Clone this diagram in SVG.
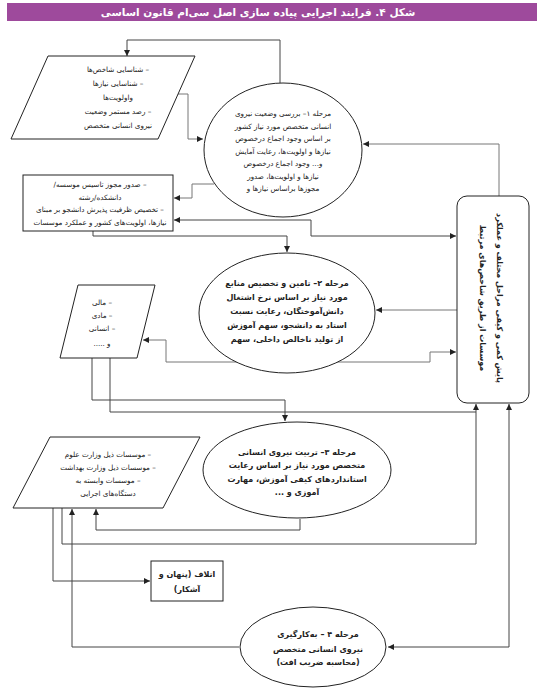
<svg xmlns="http://www.w3.org/2000/svg" width="555" height="693" viewBox="0 0 555 693">
<defs>
<marker id="ah" markerWidth="6" markerHeight="6" refX="6" refY="3" orient="auto-start-reverse" markerUnits="userSpaceOnUse">
<path d="M0,0 L6,3 L0,6 z" fill="#222"/>
</marker>
<style>
.ln{fill:none;stroke:#444;stroke-width:1}
.lg{fill:none;stroke:#777;stroke-width:1}
.sh{fill:#fff;stroke:#222;stroke-width:1}
.t{font-family:"DejaVu Sans",sans-serif;font-size:7.2px;fill:#222;text-anchor:middle;direction:rtl}
.tb{font-family:"DejaVu Sans",sans-serif;font-size:8px;fill:#222;text-anchor:middle;direction:rtl;font-weight:bold}
</style>
</defs>
<rect x="7" y="3" width="530" height="18" fill="#9e4a9c"/>
<text x="258" y="16" style="font-family:'DejaVu Sans',sans-serif;font-size:10.5px;fill:#fff;font-weight:bold;text-anchor:middle;direction:rtl">شکل ۴. فرایند اجرایی پیاده سازی اصل سی‌ام قانون اساسی</text>

<g id="connectors">
<polyline class="ln" points="280,83 280,40 127,40 127,56" marker-end="url(#ah)"/>
<polyline class="lg" points="175,94 188,94 188,139 203,139" marker-end="url(#ah)"/>
<polyline class="lg" points="499,196 499,144 363,144" marker-end="url(#ah)"/>
<polyline class="lg" points="214,184 192,184 192,198 174,198" marker-end="url(#ah)"/>
<polyline class="ln" points="174,220 311,220 311,236 456,236" marker-start="url(#ah)" marker-end="url(#ah)"/>
<polyline class="ln" points="93,231 93,236 287,236 287,252" marker-end="url(#ah)"/>
<polyline class="lg" points="457,310 376,310" marker-end="url(#ah)"/>
<polyline class="lg" points="143,340 166,340 166,362 430,362 430,352 456,352" marker-start="url(#ah)" marker-end="url(#ah)"/>
<polyline class="ln" points="92,358 92,400 285,400 285,421" marker-end="url(#ah)"/>
<polyline class="ln" points="110,358 110,412 476,412"/>
<polyline class="ln" points="62,508 62,544 476,544 476,404" marker-end="url(#ah)"/>
<polyline class="ln" points="53,508 53,581 150,581" marker-end="url(#ah)"/>
<polyline class="ln" points="72,509 72,647 239,647" marker-start="url(#ah)"/>
<polyline class="ln" points="96,509 96,530 300,530 300,519" marker-start="url(#ah)"/>
<polyline class="ln" points="509,404 509,647 388,647" marker-start="url(#ah)" marker-end="url(#ah)"/>
</g>

<g id="p1">
<polygon class="sh" points="48,56 195,56 158,139 11,139"/>
<text class="t" x="118" y="72">&#x200F;– شناسایی شاخص‌ها</text>
<text class="t" x="118" y="86">&#x200F;– شناسایی نیازها</text>
<text class="t" x="118" y="100">واولویت‌ها</text>
<text class="t" x="118" y="114">&#x200F;– رصد مستمر وضعیت</text>
<text class="t" x="118" y="128">نیروی انسانی متخصص</text>
</g>

<g id="stage1">
<ellipse class="sh" cx="283" cy="150" rx="79" ry="67"/>
<text class="t" x="283" y="116">مرحله ۱– بررسی وضعیت نیروی</text>
<text class="t" x="283" y="128.5">انسانی متخصص مورد نیاز کشور</text>
<text class="t" x="283" y="141">بر اساس وجود اجماع درخصوص</text>
<text class="t" x="283" y="153.5">نیازها و اولویت‌ها، رعایت آمایش</text>
<text class="t" x="283" y="166">و... وجود اجماع درخصوص</text>
<text class="t" x="283" y="178.5">نیازها و اولویت‌ها، صدور</text>
<text class="t" x="283" y="191">مجوزها براساس نیازها و</text>
</g>

<g id="box2">
<rect class="sh" x="23" y="175" width="150" height="56"/>
<text class="t" x="100" y="187">&#x200F;– صدور مجوز تاسیس موسسه/</text>
<text class="t" x="100" y="199.5">دانشکده/رشته</text>
<text class="t" x="100" y="212">&#x200F;– تخصیص ظرفیت پذیرش دانشجو بر مبنای</text>
<text class="t" x="100" y="224.5">نیازها، اولویت‌های کشور و عملکرد موسسات</text>
</g>

<g id="monitor">
<rect class="sh" x="457" y="196" width="72" height="207" rx="10"/>
<text class="tb" transform="translate(497,298) rotate(90)">پایش کمی و کیفی مراحل مختلف و عملکرد</text>
<text class="tb" transform="translate(480,298) rotate(90)">موسسات از طریق شاخص‌های مرتبط</text>
</g>

<g id="stage2">
<ellipse class="sh" cx="287" cy="313" rx="88" ry="60"/>
<text class="tb" x="287" y="286">مرحله ۲– تامین و تخصیص منابع</text>
<text class="tb" x="287" y="300">مورد نیاز بر اساس نرخ اشتغال</text>
<text class="tb" x="287" y="314">دانش‌آموختگان، رعایت نسبت</text>
<text class="tb" x="287" y="328">استاد به دانشجو، سهم آموزش</text>
<text class="tb" x="287" y="342">از  تولید ناخالص داخلی، سهم</text>
</g>

<g id="p2">
<polygon class="sh" points="78,285 155,285 137,358 60,358"/>
<text class="t" x="102" y="305">&#x200F;– مالی</text>
<text class="t" x="102" y="318">&#x200F;– مادی</text>
<text class="t" x="102" y="331">&#x200F;– انسانی</text>
<text class="t" x="102" y="346">و .....</text>
</g>

<g id="p3">
<polygon class="sh" points="50,437 200,437 163,508 13,508"/>
<text class="t" x="108" y="457">&#x200F;– موسسات ذیل وزارت علوم</text>
<text class="t" x="108" y="470">&#x200F;– موسسات ذیل وزارت بهداشت</text>
<text class="t" x="108" y="483">&#x200F;– موسسات وابسته به</text>
<text class="t" x="108" y="496">دستگاه‌های اجرایی</text>
</g>

<g id="stage3">
<ellipse class="sh" cx="297" cy="470" rx="94" ry="48"/>
<text class="tb" x="297" y="455">مرحله ۳– تربیت نیروی انسانی</text>
<text class="tb" x="297" y="468">متخصص مورد نیاز بر اساس رعایت</text>
<text class="tb" x="297" y="482">استانداردهای کیفی آموزش، مهارت</text>
<text class="tb" x="297" y="495">آموزی و ...</text>
</g>

<g id="waste">
<rect class="sh" x="151" y="561" width="72" height="40"/>
<text class="tb" x="187" y="577">اتلاف (پنهان و</text>
<text class="tb" x="187" y="592">آشکار)</text>
</g>

<g id="stage4">
<ellipse class="sh" cx="313" cy="647" rx="73" ry="40"/>
<text class="tb" x="318" y="637">مرحله ۴ – به‌کارگیری</text>
<text class="tb" x="318" y="652">نیروی انسانی متخصص</text>
<text class="tb" x="318" y="665">(محاسبه ضریب افت)</text>
</g>
</svg>
